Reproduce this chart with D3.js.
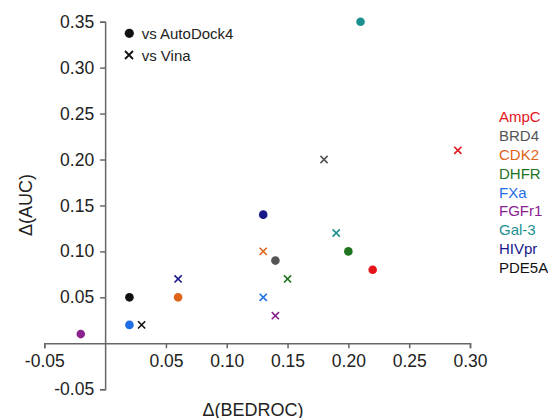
<!DOCTYPE html>
<html>
<head>
<meta charset="utf-8">
<script src="https://cdn.jsdelivr.net/npm/d3@7"></script>
<style>
  body { margin: 0; background: #fff; }
  svg { font-family: "Liberation Sans", Arial, sans-serif; }
</style>
</head>
<body>
<svg id="chart" width="548" height="418"></svg>
<script>
// targets, shown in the right-hand legend
const targets = ["AmpC", "BRD4", "CDK2", "DHFR", "FXa", "FGFr1", "Gal-3", "HIVpr", "PDE5A"];
const targetColors = ["#e4141b", "#555555", "#e0631a", "#1f741f", "#1f6ee8", "#8b2290", "#1c9090", "#17178a", "#111111"];

// Δ(BEDROC), Δ(AUC) vs AutoDock4 (circles)
const adBedroc = [0.22, 0.14, 0.06, 0.20, 0.02, -0.02, 0.21, 0.13, 0.02];
const adAuc    = [0.08, 0.09, 0.05, 0.10, 0.02, 0.01, 0.35, 0.14, 0.05];

// Δ(BEDROC), Δ(AUC) vs Vina (crosses)
const vinaBedroc = [0.29, 0.18, 0.13, 0.15, 0.13, 0.14, 0.19, 0.06, 0.03];
const vinaAuc    = [0.21, 0.20, 0.10, 0.07, 0.05, 0.03, 0.12, 0.07, 0.02];

const xTicks = [-0.05, 0.05, 0.10, 0.15, 0.20, 0.25, 0.30];
const yTicks = [-0.05, 0.05, 0.10, 0.15, 0.20, 0.25, 0.30, 0.35];
const methodLabels = ["vs AutoDock4", "vs Vina"];

const svg = d3.select("#chart");
const axisColor = "#666";
const fmt = d => d3.format(".2f")(d).replace("−", "-");

const x = d3.scaleLinear().domain([-0.05, 0.30]).range([44.3, 470]);
const y = d3.scaleLinear().domain([-0.05, 0.35]).range([389.2, 21.7]);

// axes cross at the origin
const xAxis = svg.append("g")
    .attr("transform", "translate(0," + y(0) + ")")
    .call(d3.axisBottom(x).tickValues(xTicks).tickFormat(fmt).tickSize(5).tickSizeOuter(5).tickPadding(6));

const yAxis = svg.append("g")
    .attr("transform", "translate(" + x(0) + ",0)")
    .call(d3.axisLeft(y).tickValues(yTicks).tickFormat(fmt).tickSize(5).tickSizeOuter(5).tickPadding(6));

[xAxis, yAxis].forEach(a => {
    a.selectAll("path, line").attr("stroke", axisColor).attr("stroke-width", 1.5);
    a.selectAll("text").attr("fill", "#222").style("font-size", "17.5px");
});

// axis titles
svg.append("text")
    .attr("x", 253).attr("y", 416)
    .attr("text-anchor", "middle")
    .style("font-size", "18px").attr("fill", "#222")
    .text("Δ(BEDROC)");

svg.append("text")
    .attr("transform", "translate(32,205) rotate(-90)")
    .attr("text-anchor", "middle")
    .style("font-size", "18px").attr("fill", "#222")
    .text("Δ(AUC)");

// points
const r = 4.3, s = 3.6;
svg.append("g").selectAll("circle")
    .data(targets)
    .join("circle")
    .attr("cx", (d, i) => x(adBedroc[i]))
    .attr("cy", (d, i) => y(adAuc[i]))
    .attr("r", r)
    .attr("fill", (d, i) => targetColors[i]);

svg.append("g").selectAll("path")
    .data(targets)
    .join("path")
    .attr("d", (d, i) => {
        const cx = x(vinaBedroc[i]), cy = y(vinaAuc[i]);
        return `M${cx - s},${cy - s}L${cx + s},${cy + s}M${cx - s},${cy + s}L${cx + s},${cy - s}`;
    })
    .attr("stroke", (d, i) => targetColors[i])
    .attr("stroke-width", 1.6)
    .attr("fill", "none");

// symbol legend
const leg = svg.append("g");
leg.append("circle").attr("cx", 129.3).attr("cy", 33.3).attr("r", 4.6).attr("fill", "#111");
leg.append("path")
    .attr("d", `M${129 - 4},${55 - 4}L${129 + 4},${55 + 4}M${129 - 4},${55 + 4}L${129 + 4},${55 - 4}`)
    .attr("stroke", "#111").attr("stroke-width", 1.8);
leg.selectAll("text")
    .data(methodLabels)
    .join("text")
    .attr("x", 141.7)
    .attr("y", (d, i) => 33.3 + i * 22 + 5.4)
    .style("font-size", "15px").attr("fill", "#222")
    .text(d => d);

// target legend
svg.append("g").selectAll("text")
    .data(targets)
    .join("text")
    .attr("x", 499)
    .attr("y", (d, i) => 117 + i * 18.8 + 5.4)
    .style("font-size", "15px")
    .attr("fill", (d, i) => targetColors[i])
    .text(d => d);
</script>
</body>
</html>
